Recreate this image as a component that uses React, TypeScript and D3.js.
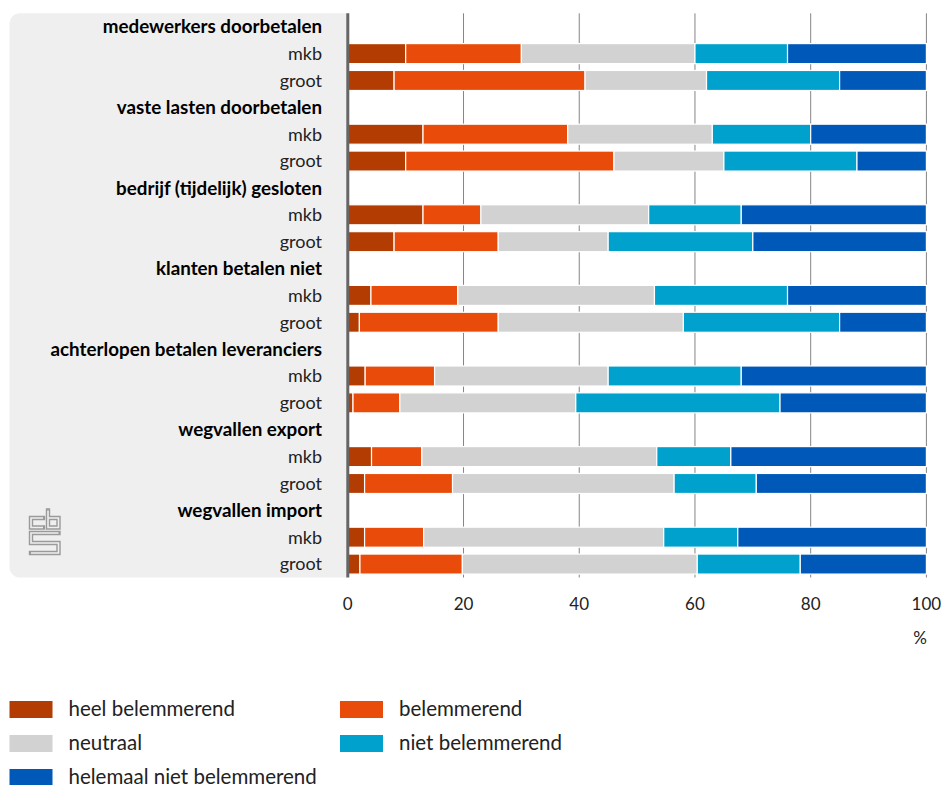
import React from "react";
import * as d3 from "d3";

const groups = [
  "medewerkers doorbetalen",
  "vaste lasten doorbetalen",
  "bedrijf (tijdelijk) gesloten",
  "klanten betalen niet",
  "achterlopen betalen leveranciers",
  "wegvallen export",
  "wegvallen import",
];
const sizes = ["mkb", "groot"];

const heelBelemmerend = [10, 8, 13, 10, 13, 8, 4, 2, 3, 0.9, 4.1, 2.9, 2.9, 2.1];
const belemmerend = [20, 33, 25, 36, 10, 18, 15, 24, 12, 8.1, 8.7, 15.2, 10.2, 17.7];
const neutraal = [30, 21, 25, 19, 29, 19, 34, 32, 30, 30.4, 40.6, 38.3, 41.5, 40.6];
const nietBelemmerend = [16, 23, 17, 23, 16, 25, 23, 27, 23, 35.3, 12.8, 14.2, 12.8, 17.8];
const helemaalNiet = [24, 15, 20, 12, 32, 30, 24, 15, 32, 25.3, 33.8, 29.4, 32.6, 21.8];

const seriesNames = [
  "heel belemmerend",
  "belemmerend",
  "neutraal",
  "niet belemmerend",
  "helemaal niet belemmerend",
];
const seriesColors = ["#b23c02", "#e94c0a", "#d2d2d2", "#00a1cd", "#0058b8"];
const xTicks = [0, 20, 40, 60, 80, 100];

const W = 943;
const H = 785;
const FONT = "Lato, 'Open Sans', sans-serif";

export default function App() {
  const seriesData = [heelBelemmerend, belemmerend, neutraal, nietBelemmerend, helemaalNiet];

  const rows: { label: string; bold: boolean; dataIndex: number }[] = [];
  groups.forEach((g, gi) => {
    rows.push({ label: g, bold: true, dataIndex: -1 });
    sizes.forEach((s, si) => rows.push({ label: s, bold: false, dataIndex: gi * 2 + si }));
  });

  const top = 13.3;
  const bottom = 577.5;
  const x0 = 347.8;
  const x1 = 926.4;
  const panelLeft = 9.5;

  const x = d3.scaleLinear().domain([0, 100]).range([x0, x1]);
  const y = d3
    .scaleBand<number>()
    .domain(d3.range(rows.length))
    .range([top, bottom])
    .paddingInner(0.255)
    .paddingOuter(0.1275);
  const band = (bottom - top) / rows.length;

  const rowData = d3.range(heelBelemmerend.length).map((i) => {
    const obj: any = { i };
    seriesNames.forEach((n, k) => (obj[n] = seriesData[k][i]));
    return obj;
  });
  const stacked = d3.stack<any>().keys(seriesNames)(rowData);

  const rowIndexOfData = (di: number) => rows.findIndex((r) => r.dataIndex === di);

  const r = 10;
  const panelPath = `M${x0},${top} H${panelLeft + r} A${r},${r} 0 0 0 ${panelLeft},${top + r} V${bottom - r} A${r},${r} 0 0 0 ${panelLeft + r},${bottom} H${x0} Z`;

  const legendItems = seriesNames.map((n, k) => ({
    name: n,
    color: seriesColors[k],
    col: k % 2,
    row: Math.floor(k / 2),
  }));

  const logoPaths = [
    "M43,518 H31 V527.5 H43",
    "M48,510.5 V527.5 H58.5 V518 H48",
    "M58.5,533 H31 V543 H58.5 V553 H31",
  ];

  return (
    <svg
      width={W}
      height={H}
      style={{ position: "absolute", left: 0, top: 0, background: "#fff" }}
      fontFamily={FONT}
    >
      <path d={panelPath} fill="#efefef" />
      <g>
        {logoPaths.map((d, i) => (
          <g key={i}>
            <path d={d} fill="none" stroke="#9a9a9a" strokeWidth={4.4} strokeLinejoin="miter" strokeLinecap="square" />
            <path d={d} fill="none" stroke="#efefef" strokeWidth={1.6} strokeLinejoin="miter" strokeLinecap="butt" />
          </g>
        ))}
      </g>
      {xTicks
        .filter((t) => t > 0)
        .map((t) => (
          <line key={t} x1={x(t)} x2={x(t)} y1={top} y2={bottom} stroke="#858585" strokeWidth={1} />
        ))}
      {stacked.map((s, k) => (
        <g key={k} fill={seriesColors[k]}>
          {s.map((d, i) => {
            const ri = rowIndexOfData(i);
            return (
              <rect
                key={i}
                x={x(d[0])}
                y={y(ri)}
                width={Math.max(0, x(d[1]) - x(d[0]))}
                height={y.bandwidth()}
                stroke="#ffffff"
                strokeWidth={1.2}
              />
            );
          })}
        </g>
      ))}
      <line x1={x0} x2={x0} y1={top} y2={bottom} stroke="#666" strokeWidth={3} />
      {rows.map((row, i) => (
        <text
          key={i}
          x={322}
          y={top + band * (i + 0.5)}
          dy="0.35em"
          textAnchor="end"
          fontSize={row.bold ? 18.8 : 18}
          fontWeight={row.bold ? 700 : 400}
          fill={row.bold ? "#000" : "#222"}
        >
          {row.label}
        </text>
      ))}
      {xTicks.map((t) => (
        <text key={t} x={x(t)} y={604.5} dy="0.35em" textAnchor="middle" fontSize={17} fill="#222">
          {t}
        </text>
      ))}
      <text x={927} y={638} dy="0.35em" textAnchor="end" fontSize={17} fill="#222">
        %
      </text>
      {legendItems.map((it) => {
        const lx = it.col === 0 ? 9.5 : 340;
        const ly = 701 + it.row * 34;
        return (
          <g key={it.name}>
            <rect x={lx} y={ly} width={43} height={17} fill={it.color} />
            <text x={lx + 59} y={ly + 8} dy="0.35em" fontSize={20.5} fill="#222">
              {it.name}
            </text>
          </g>
        );
      })}
    </svg>
  );
}
